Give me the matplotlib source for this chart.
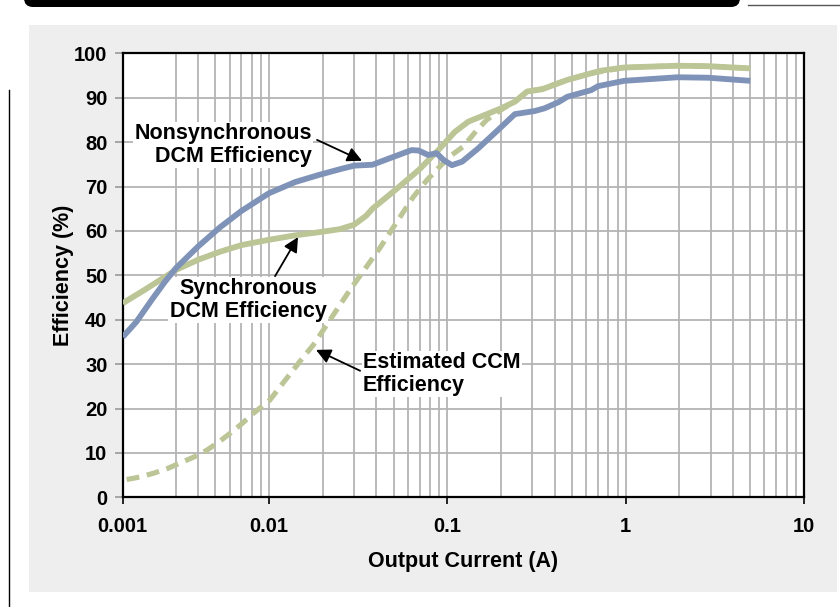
import numpy as np
import matplotlib
matplotlib.use('Agg')
import matplotlib.pyplot as plt
from matplotlib.patches import Rectangle, FancyBboxPatch
from matplotlib.lines import Line2D
import matplotlib.transforms as mtransforms

plt.rcParams['font.family'] = ['Liberation Sans', 'DejaVu Sans']
plt.rcParams['font.weight'] = 'bold'

# --- data (output current in A, efficiency in %) ---
nonsync_x = [0.00151, 0.0018, 0.0022, 0.0026, 0.003, 0.004, 0.0053, 0.007,
             0.01, 0.014, 0.019, 0.025, 0.03, 0.038, 0.047, 0.063, 0.069,
             0.078, 0.087, 0.095, 0.106, 0.121, 0.149, 0.192, 0.239, 0.309,
             0.35, 0.42, 0.47, 0.64, 0.70, 0.98, 1.95, 2.9, 5.0]
nonsync_y = [36.1, 39.5, 44.5, 48.5, 51.6, 56.5, 60.8, 64.5,
             68.5, 71.0, 72.6, 73.9, 74.7, 74.9, 76.3, 78.2, 78.1,
             77.1, 77.5, 76.0, 74.8, 75.6, 78.6, 82.7, 86.3, 87.0,
             87.6, 89.0, 90.2, 91.7, 92.6, 93.8, 94.6, 94.5, 93.8]

sync_x = [0.00151, 0.002, 0.003, 0.004, 0.0053, 0.007, 0.01, 0.014, 0.019,
          0.025, 0.03, 0.035, 0.038, 0.051, 0.069, 0.089, 0.11, 0.131, 0.162,
          0.20, 0.239, 0.28, 0.34, 0.47, 0.64, 0.73, 0.98, 1.95, 2.9, 5.0]
sync_y = [43.7, 46.7, 51.2, 53.5, 55.3, 56.8, 58.0, 59.0, 59.7,
          60.4, 61.4, 63.4, 65.0, 69.2, 73.7, 78.2, 82.3, 84.6, 86.1,
          87.6, 89.1, 91.4, 91.9, 94.0, 95.5, 96.1, 96.8, 97.2, 97.1, 96.6]

ccm_x = [0.00159, 0.0019, 0.00224, 0.0027, 0.00316, 0.0038, 0.00447, 0.0052,
         0.00604, 0.007, 0.00815, 0.0101, 0.012, 0.01368, 0.0155, 0.0177,
         0.022, 0.0284, 0.035, 0.0419, 0.052, 0.0645, 0.077, 0.0907, 0.105,
         0.1228, 0.145, 0.166, 0.206, 0.239, 0.28, 0.34, 0.47, 0.64, 0.98,
         1.95, 2.9, 5.0]
ccm_y = [4.0, 4.6, 5.4, 6.5, 7.7, 9.1, 10.6, 12.4,
         14.4, 16.5, 18.9, 21.9, 25.8, 28.7, 31.5, 34.3,
         40.0, 46.7, 51.8, 56.2, 62.0, 67.7, 71.5, 74.5, 77.0,
         79.0, 82.5, 85.0, 87.6, 89.1, 91.4, 92.0, 94.0, 95.5, 96.8,
         97.2, 97.1, 96.6]

x_tick_pos = [0.00151, 0.01, 0.1, 1, 10]
x_tick_lab = ['0.001', '0.01', '0.1', '1', '10']
y_ticks = list(range(0, 101, 10))

blue = '#7f93b8'
green = '#bcc596'
grid_c = '#b4b4b4'

W, H = 840, 607
fig = plt.figure(figsize=(W / 100, H / 100), dpi=100)
px = mtransforms.Affine2D().scale(1 / W, 1 / H) + fig.transFigure

# page decorations
fig.add_artist(Rectangle((29, H - 592), 808, 567, transform=px,
                         facecolor='#eeeeee', edgecolor='none', zorder=-2))
fig.add_artist(FancyBboxPatch((24, H - 7), 716, 20, transform=px,
                              boxstyle='round,pad=0,rounding_size=9',
                              facecolor='black', edgecolor='none', zorder=-1))
fig.add_artist(Line2D([748, 840], [H - 5, H - 5], transform=px,
                      color='#555555', lw=1))
fig.add_artist(Line2D([9, 9], [0, H - 90], transform=px, color='black', lw=1))

ax = fig.add_axes([122.7 / W, 1 - 497.3 / H, (804 - 122.7) / W, 444 / H])
ax.set_facecolor('white')
ax.set_xscale('log')
ax.set_xlim(0.00151, 10)
ax.set_ylim(0, 100)

minor = [m * 0.001 for m in range(3, 10)] + [m * d for d in (0.01, 0.1, 1)
                                            for m in range(2, 10)]
ax.set_xticks(x_tick_pos)
ax.set_xticklabels(x_tick_lab)
ax.set_xticks(minor, minor=True)
ax.set_xticklabels([], minor=True)
ax.set_yticks(y_ticks)

ax.set_axisbelow(True)
ax.grid(True, which='both', axis='x', color=grid_c, lw=1.3)
ax.grid(True, which='major', axis='y', color=grid_c, lw=1.3)

ax.tick_params(axis='x', which='major', length=5, width=1.2, color='black',
               pad=9, labelsize=14.5)
ax.tick_params(axis='x', which='minor', length=0)
ax.tick_params(axis='y', length=6, width=1.2, color='#999999', pad=5,
               labelsize=14.5)
for s in ax.spines.values():
    s.set_linewidth(1.6)
    s.set_color('black')

ax.set_xlabel('Output Current (A)', fontsize=15.5, fontweight='bold', labelpad=11)
ax.set_ylabel('Efficiency (%)', fontsize=15.5, fontweight='bold', labelpad=0)

ax.plot(ccm_x, ccm_y, color=green, lw=3.7, ls=(0, (2.5, 1.5)), zorder=3)
ax.plot(sync_x, sync_y, color=green, lw=4.2, zorder=4, solid_capstyle='butt',
        solid_joinstyle='round')
ax.plot(nonsync_x, nonsync_y, color=blue, lw=4.2, zorder=5,
        solid_capstyle='butt', solid_joinstyle='round')

box = dict(facecolor='white', edgecolor='none', pad=1)
ax.text(0.0174, 79.3, 'Nonsynchronous\nDCM Efficiency', ha='right', va='center',
        fontsize=15.5, fontweight='bold', linespacing=1.1, bbox=box, zorder=2)
ax.text(0.00762, 44.4, 'Synchronous\nDCM Efficiency', ha='center', va='center',
        fontsize=15.5, fontweight='bold', linespacing=1.1, bbox=box, zorder=2)
ax.text(0.0336, 27.8, 'Estimated CCM\nEfficiency', ha='left', va='center',
        fontsize=15.5, fontweight='bold', linespacing=1.1, bbox=box, zorder=2)

arrow = dict(arrowstyle='-|>', color='black', lw=1.3, mutation_scale=22,
             shrinkA=0, shrinkB=0)
ax.annotate('', xy=(0.0332, 75.8), xytext=(0.01857, 80.5), arrowprops=arrow, zorder=6)
ax.annotate('', xy=(0.01452, 58.6), xytext=(0.0108, 49.8), arrowprops=arrow, zorder=6)
ax.annotate('', xy=(0.01833, 33.2), xytext=(0.0324, 28.5), arrowprops=arrow, zorder=6)

fig.savefig('out.png', dpi=100, facecolor='white')
